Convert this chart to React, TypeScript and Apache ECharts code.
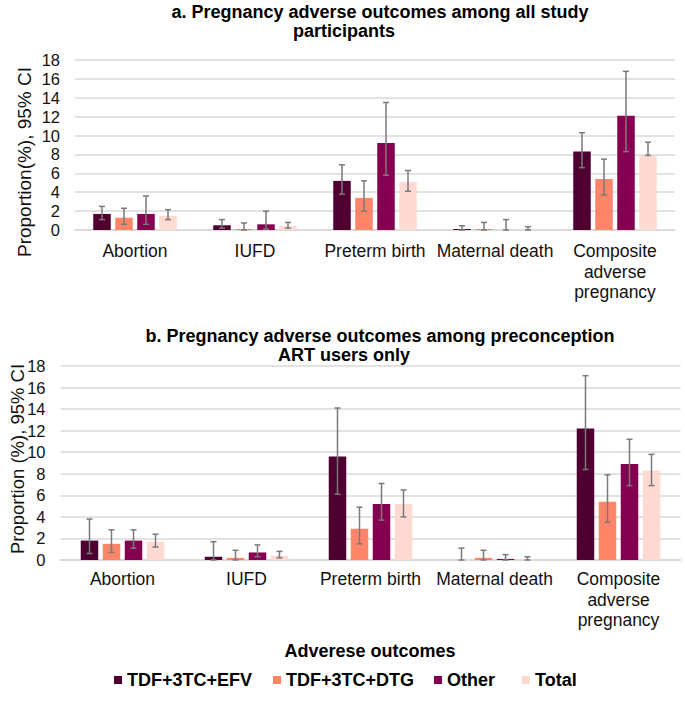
import React, { useEffect, useRef } from "react";
import * as echarts from "echarts";

const categories = ["Abortion", "IUFD", "Preterm birth", "Maternal death", "Composite adverse pregnancy"];
const seriesNames = ["TDF+3TC+EFV", "TDF+3TC+DTG", "Other", "Total"];
const seriesColors = ["#500030", "#ff8569", "#850050", "#ffdad2"];
const yTicks = [0, 2, 4, 6, 8, 10, 12, 14, 16, 18];

// a. all study participants
const allEfv = [1.7, 0.5, 5.2, 0.1, 8.3];
const allEfvLow = [1.1, 0.2, 3.8, 0, 6.6];
const allEfvHigh = [2.5, 1.1, 6.9, 0.45, 10.3];
const allDtg = [1.3, 0.1, 3.4, 0.1, 5.4];
const allDtgLow = [0.6, 0, 2.0, 0, 3.7];
const allDtgHigh = [2.3, 0.75, 5.2, 0.8, 7.5];
const allOther = [1.7, 0.6, 9.2, 0, 12.1];
const allOtherLow = [0.6, 0.1, 5.8, 0, 8.3];
const allOtherHigh = [3.6, 2.0, 13.5, 1.1, 16.8];
const allTotal = [1.5, 0.4, 5.1, 0.05, 7.9];
const allTotalLow = [1.1, 0.2, 4.1, 0, 7.9];
const allTotalHigh = [2.15, 0.8, 6.3, 0.35, 9.3];

// b. preconception ART users only
const artEfv = [1.8, 0.3, 9.6, 0, 12.2];
const artEfvLow = [0.6, 0, 6.1, 0, 8.4];
const artEfvHigh = [3.8, 1.7, 14.1, 1.1, 17.1];
const artDtg = [1.5, 0.2, 2.9, 0.2, 5.4];
const artDtgLow = [0.7, 0, 1.5, 0, 3.5];
const artDtgHigh = [2.8, 0.9, 4.9, 0.9, 7.9];
const artOther = [1.8, 0.7, 5.2, 0.1, 8.9];
const artOtherLow = [1.1, 0.3, 3.7, 0, 6.9];
const artOtherHigh = [2.8, 1.4, 7.1, 0.5, 11.2];
const artTotal = [1.7, 0.4, 5.2, 0.05, 8.3];
const artTotalLow = [1.2, 0.2, 4.0, 0, 6.9];
const artTotalHigh = [2.4, 0.8, 6.5, 0.3, 9.8];

const FONT = "'Liberation Sans', Arial, sans-serif";
const BAR_W = 17.5;
const BAR_GAP = 4.5;
const LEGEND_LEFT = [114, 273, 434, 522];

export default function App() {
  const ref = useRef<HTMLDivElement>(null);
  useEffect(() => {
    if (!ref.current) return;
    const chart = echarts.init(ref.current, undefined, { renderer: "svg" });

    const groups = [
      {
        vals: [allEfv, allDtg, allOther, allTotal],
        lows: [allEfvLow, allDtgLow, allOtherLow, allTotalLow],
        highs: [allEfvHigh, allDtgHigh, allOtherHigh, allTotalHigh],
      },
      {
        vals: [artEfv, artDtg, artOther, artTotal],
        lows: [artEfvLow, artDtgLow, artOtherLow, artTotalLow],
        highs: [artEfvHigh, artDtgHigh, artOtherHigh, artTotalHigh],
      },
    ];

    const series: any[] = [];
    groups.forEach((g, gi) => {
      g.vals.forEach((vals, si) => {
        series.push({
          type: "bar",
          name: seriesNames[si],
          xAxisIndex: gi,
          yAxisIndex: gi,
          data: vals,
          barWidth: BAR_W,
          barGap: (BAR_GAP / BAR_W) * 100 + "%",
          itemStyle: { color: seriesColors[si] },
        });
      });
      g.vals.forEach((_, si) => {
        const offset = (si - 1.5) * (BAR_W + BAR_GAP);
        series.push({
          type: "custom",
          name: "err" + gi + si,
          xAxisIndex: gi,
          yAxisIndex: gi,
          z: 10,
          silent: true,
          data: categories.map((_c, i) => [i, g.lows[si][i], g.highs[si][i]]),
          renderItem: (_params: any, api: any) => {
            const i = api.value(0);
            const lo = api.coord([i, api.value(1)]);
            const hi = api.coord([i, api.value(2)]);
            const x = lo[0] + offset;
            const st = { stroke: "#7a7a7a", lineWidth: 1.5 };
            const cw = 3;
            return {
              type: "group",
              children: [
                { type: "line", shape: { x1: x, y1: lo[1], x2: x, y2: hi[1] }, style: st },
                { type: "line", shape: { x1: x - cw, y1: lo[1], x2: x + cw, y2: lo[1] }, style: st },
                { type: "line", shape: { x1: x - cw, y1: hi[1], x2: x + cw, y2: hi[1] }, style: st },
              ],
            };
          },
        });
      });
    });

    const xAxisBase = (gi: number, margin: number) => ({
      type: "category",
      gridIndex: gi,
      data: categories,
      axisLine: { lineStyle: { color: "#d9d9d9", width: 1.5 } },
      axisTick: { show: false },
      axisLabel: {
        interval: 0,
        margin,
        fontFamily: FONT,
        fontSize: 17.5,
        lineHeight: 20.5,
        color: "#111",
        formatter: (v: string) => (v.indexOf("Composite") === 0 ? v.split(" ").join("\n") : v),
      },
    });
    const yAxisBase = (gi: number) => ({
      type: "value",
      gridIndex: gi,
      min: 0,
      max: 18,
      interval: 2,
      axisLine: { show: false },
      axisTick: { show: false },
      axisLabel: {
        fontFamily: FONT,
        fontSize: 16.5,
        color: "#111",
        margin: 15,
        formatter: (v: number) => (yTicks.indexOf(v) >= 0 ? String(v) : ""),
      },
      splitLine: { lineStyle: { color: "#d9d9d9", width: 1.5 } },
    });

    const txt = (x: number, y: number, text: string, size: number, bold: boolean, rotation = 0) => ({
      type: "text",
      x,
      y,
      rotation,
      style: {
        text,
        fontFamily: FONT,
        fontSize: size,
        fontWeight: bold ? "bold" : "normal",
        fill: bold ? "#000" : "#111",
        textAlign: "center",
        textVerticalAlign: "middle",
      },
    });

    chart.setOption({
      animation: false,
      backgroundColor: "#ffffff",
      grid: [
        { left: 75, right: 10, top: 60, height: 170 },
        { left: 60.5, right: 4.5, top: 366, height: 194 },
      ],
      xAxis: [xAxisBase(0, 11), xAxisBase(1, 9)],
      yAxis: [yAxisBase(0), yAxisBase(1)],
      legend: seriesNames.map((n, i) => ({
        data: [n],
        left: LEGEND_LEFT[i],
        top: 671,
        padding: 0,
        icon: "rect",
        itemWidth: 8,
        itemHeight: 8,
        textStyle: { fontFamily: FONT, fontSize: 18, fontWeight: "bold", color: "#000" },
      })),
      graphic: [
        txt(380, 12, "a. Pregnancy adverse outcomes among all study", 18, true),
        txt(344, 31, "participants", 18, true),
        txt(380, 336, "b. Pregnancy adverse outcomes among preconception", 18, true),
        txt(344, 355, "ART users only", 18, true),
        txt(370, 651, "Adverese outcomes", 18, true),
        txt(24, 162, "Proportion(%), 95% CI", 19, false, Math.PI / 2),
        txt(17, 459, "Proportion (%), 95% CI", 18.5, false, Math.PI / 2),
      ],
      series,
    });
    return () => chart.dispose();
  }, []);
  return <div ref={ref} style={{ position: "fixed", left: 0, top: 0, width: 685, height: 704 }} />;
}
